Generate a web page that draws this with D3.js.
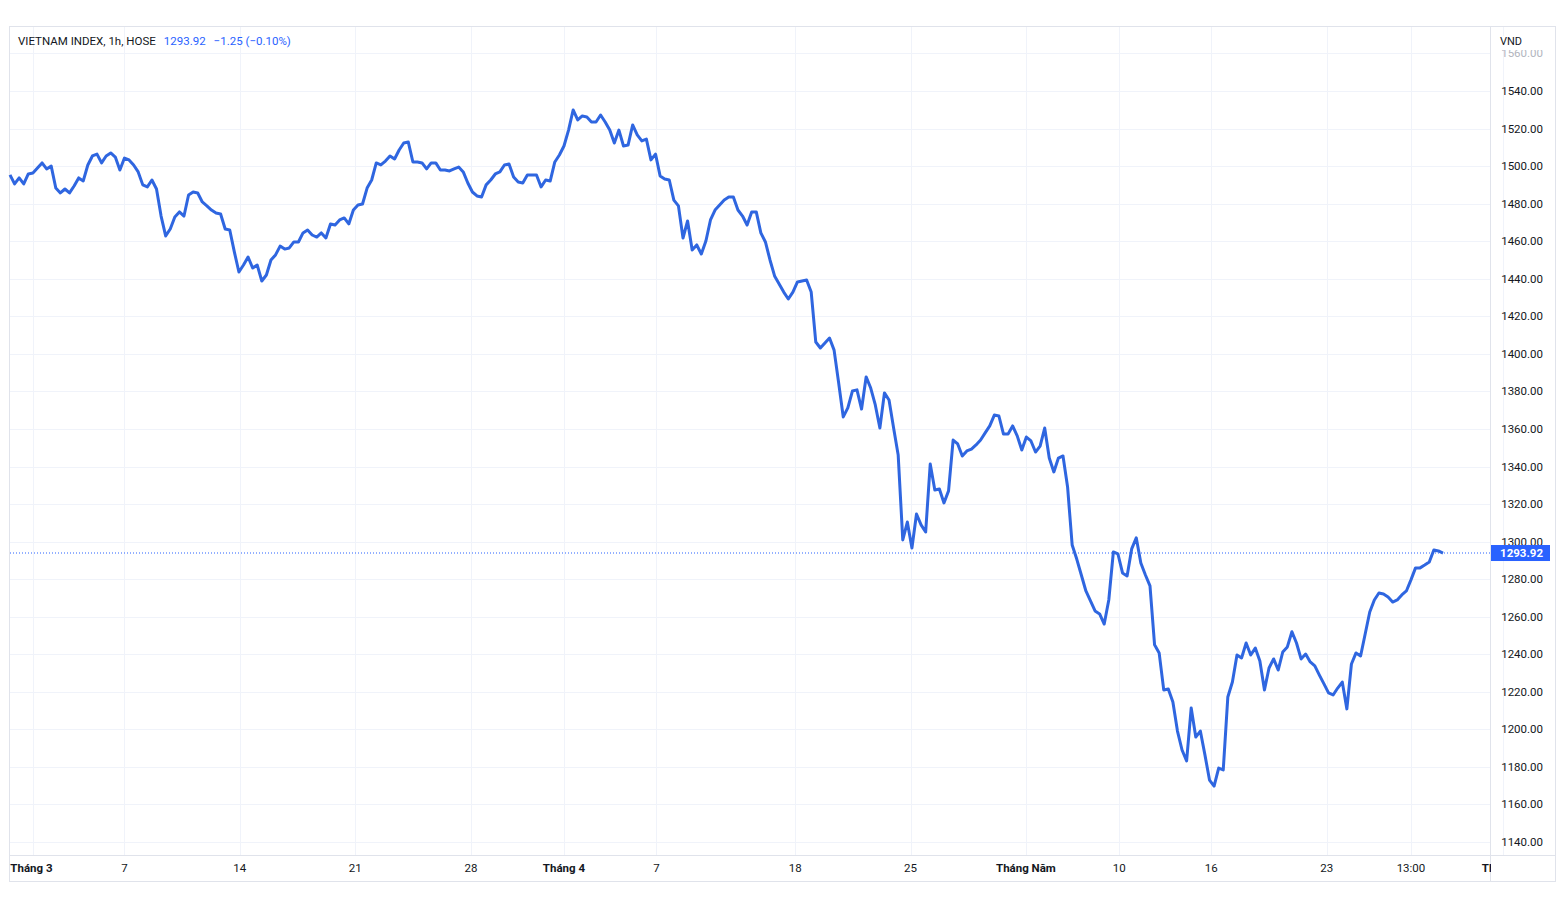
<!DOCTYPE html>
<html><head><meta charset="utf-8">
<script src="https://cdn.jsdelivr.net/npm/d3@7"></script>
<style>body{margin:0;background:#fff;font-family:Roboto,"Noto Sans",sans-serif;}</style>
</head><body><svg id="c" width="1566" height="917"></svg>
<script>
const values=[1495.3,1490.5,1493.7,1490.5,1495.8,1496.3,1499,1501.7,1498.5,1500,1488.3,1485.7,1487.8,1485.7,1489.4,1493.7,1492.1,1500.6,1505.4,1506.4,1501.7,1505.4,1507,1504.8,1497.9,1504.3,1503.3,1500.6,1496.9,1490,1488.9,1492.6,1487.8,1473.4,1462.8,1466.5,1472.9,1475.6,1473.4,1484.6,1486.2,1485.7,1480.9,1478.8,1476.6,1475,1474.5,1466.5,1466,1454.3,1443.6,1447.3,1451.6,1445.7,1447.3,1438.8,1442,1450,1452.7,1457.4,1455.8,1456.4,1459.6,1459.6,1464.4,1466,1463.3,1462.2,1464.4,1461.7,1469.2,1468.6,1471.3,1472.4,1469.2,1476.6,1479.3,1479.8,1488.3,1492.6,1501.7,1500.6,1502.7,1505.4,1503.8,1508.6,1512.3,1512.8,1502.2,1502.2,1501.7,1498.5,1501.7,1501.7,1497.9,1497.9,1497.4,1498.5,1499.5,1496.9,1491,1486.2,1484.1,1483.5,1490,1492.6,1495.8,1496.9,1500.6,1501.1,1494.2,1491.5,1491,1495.3,1495.3,1495.3,1488.9,1492.6,1492.1,1502.2,1505.9,1510.7,1519.2,1529.9,1524.6,1526.7,1526.2,1523.5,1523.5,1527.2,1523.5,1519.2,1512.3,1519.2,1510.7,1511.2,1521.9,1516.6,1513.4,1514.4,1503.3,1506.4,1494.7,1493.1,1492.6,1481.9,1478.8,1461.7,1470.8,1455.3,1458,1453.2,1460.1,1471.3,1476.6,1479.3,1481.9,1483.5,1483.5,1476.6,1473.4,1468.6,1475.6,1475.6,1464.4,1459.6,1450,1441.5,1437.2,1432.9,1429.2,1432.9,1438.3,1438.8,1439.3,1432.9,1406.3,1403.1,1405.8,1408.4,1402,1384.5,1366.4,1371.2,1380.2,1380.8,1370.6,1387.7,1381.8,1372.8,1360.5,1379.2,1375.4,1360.5,1346.1,1300.9,1310.4,1296.6,1314.7,1308.9,1305.1,1341.3,1327.5,1328,1320.6,1327,1354.1,1352,1345.6,1348.3,1349.3,1351.5,1354.1,1357.9,1361.6,1367.4,1366.9,1357.3,1357.3,1361.6,1356.3,1348.8,1355.7,1353.6,1347.7,1350.9,1360.5,1344.5,1337.1,1344.5,1345.6,1329.1,1298.2,1290.7,1282.2,1273.7,1268.4,1263.1,1261.5,1256.1,1268.9,1294.5,1293.4,1283.3,1281.7,1296.1,1302,1288.6,1282.2,1276.4,1245,1240.7,1221,1221.5,1214.6,1199.1,1189,1183.2,1211.4,1195.9,1199.1,1186.4,1173,1169.8,1179.4,1178.4,1217.2,1225.2,1239.6,1238,1246,1239.6,1243.3,1236.4,1221,1232.7,1237.5,1231.6,1241.2,1243.9,1252,1246,1237.5,1240.1,1235.9,1233.8,1228.9,1224.2,1219.4,1218.3,1222,1225.2,1210.9,1234.8,1240.7,1239.1,1250.8,1262.5,1268.9,1272.6,1272.1,1270.5,1267.8,1268.9,1271.6,1273.7,1279.6,1286,1286,1287.5,1289.1,1295.5,1295,1293.92];
const tickLabels=["Tháng 3","7","14","21","28","Tháng 4","7","18","25","Tháng Năm","10","16","23","13:00","Tháng 6"];
const tickPos=[5.1,25,50.2,75.4,100.7,121,141.2,171.5,196.7,221.9,242.3,262.4,287.6,306,326.1];
const yTicks=d3.range(1140,1561,20);
const title="VIETNAM INDEX, 1h, HOSE", lastTxt="1293.92", chgTxt="−1.25 (−0.10%)";

const svg=d3.select("#c");
const L=10,R=1490,T=27,B=855;
const n=values.length;
const x=d3.scaleLinear().domain([0,n-1]).range([10,1443]);
const y=d3.scaleLinear().domain([1140,1540]).range([842,91]);
const last=values[n-1];

svg.append("rect").attr("x",9.5).attr("y",26.5).attr("width",1546).attr("height",855).attr("fill","none").attr("stroke","#e0e3eb");
const g=svg.append("g");
g.selectAll(".hg").data(yTicks).join("line").attr("x1",L).attr("x2",R).attr("y1",d=>Math.round(y(d))+.5).attr("y2",d=>Math.round(y(d))+.5).attr("stroke","#f0f3fa");
g.selectAll(".vg").data(tickPos).join("line").attr("x1",d=>Math.round(x(d))+.5).attr("x2",d=>Math.round(x(d))+.5).attr("y1",T).attr("y2",B).attr("stroke","#f0f3fa");
svg.append("line").attr("x1",R+.5).attr("x2",R+.5).attr("y1",T).attr("y2",882).attr("stroke","#e0e3eb");
svg.append("line").attr("x1",L).attr("x2",1555).attr("y1",B+.5).attr("y2",B+.5).attr("stroke","#e0e3eb");

// y labels
svg.selectAll(".yl").data(yTicks).join("text").attr("x",1543).attr("y",d=>y(d)+4).attr("text-anchor","end").attr("font-size",11.5).attr("fill",d=>d===1560?"#b2b5be":"#131722").text(d=>d.toFixed(2));
svg.append("rect").attr("x",1495).attr("y",36).attr("width",52).attr("height",14).attr("fill","#fff");
svg.append("text").attr("x",1500).attr("y",45).attr("font-size",11).attr("fill","#131722").text("VND");

// x labels
svg.selectAll(".xl").data(tickLabels).join("text").attr("x",(d,i)=>x(tickPos[i])).attr("y",872).attr("text-anchor",(d,i)=>i===0?"start":"middle")
 .attr("dx",(d,i)=>i===0?-23:0).attr("font-size",11.5).attr("fill","#131722").attr("font-weight",d=>d.startsWith("Tháng")?"bold":"normal").text(d=>d);
svg.append("rect").attr("x",1491).attr("y",856).attr("width",64).attr("height",25).attr("fill","#fff");

// last price line
svg.append("line").attr("x1",L).attr("x2",R).attr("y1",y(last)).attr("y2",y(last)).attr("stroke","#2962ff").attr("stroke-dasharray","1,2");
svg.append("rect").attr("x",1491).attr("y",y(last)-8).attr("width",59).attr("height",16).attr("fill","#2962ff");
svg.append("text").attr("x",1543).attr("y",y(last)+4).attr("text-anchor","end").attr("font-size",11.5).attr("font-weight","bold").attr("fill","#fff").text(lastTxt);

svg.append("path").datum(values).attr("fill","none").attr("stroke","#2f66e0").attr("stroke-width",3).attr("stroke-linejoin","round")
 .attr("d",d3.line().x((d,i)=>x(i)).y(d=>y(d)));

const t=svg.append("text").attr("x",18).attr("y",45).attr("font-size",11.5);
t.append("tspan").attr("fill","#131722").text(title);
t.append("tspan").attr("fill","#2962ff").attr("dx",8).text(lastTxt);
t.append("tspan").attr("fill","#2962ff").attr("dx",8).text(chgTxt);
</script></body></html>
